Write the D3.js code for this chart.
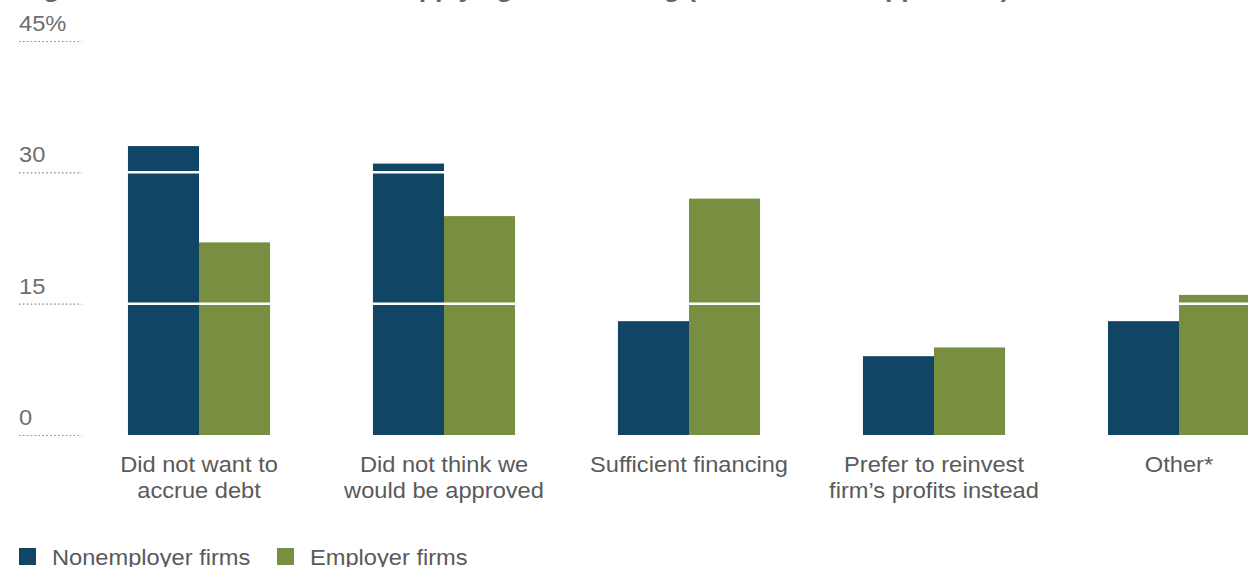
<!DOCTYPE html>
<html>
<head>
<meta charset="utf-8">
<script src="https://cdn.jsdelivr.net/npm/d3@7"></script>
<style>
  html, body { margin: 0; padding: 0; background: #fff; }
  svg { display: block; font-family: "Liberation Sans", Arial, sans-serif; }
</style>
</head>
<body>
<svg id="chart" width="1248" height="567"></svg>
<script>
// Reasons for not applying for financing, share of firms (%)
const categories = [
  ["Did not want to", "accrue debt"],
  ["Did not think we", "would be approved"],
  ["Sufficient financing"],
  ["Prefer to reinvest", "firm\u2019s profits instead"],
  ["Other*"]
];
const seriesNames = ["Nonemployer firms", "Employer firms"];
const nonemployer = [33, 31, 13, 9, 13];
const employer = [22, 25, 27, 10, 16];
const yTicks = [0, 15, 30, 45];
const titleText = "Figure 4. Main reasons for not applying for financing (% of total nonapplicants)";

const colors = ["#104566", "#788f42"];
const stretch = 1.1;

const svg = d3.select("#chart");
const W = 1248;

const catKeys = categories.map(c => c.join(" "));
const x = d3.scaleBand().domain(catKeys).range([76.5, 1301.5])
  .paddingInner(0.42).paddingOuter(0.21);
const xs = d3.scaleBand().domain(seriesNames).range([0, x.bandwidth()]).padding(0);
const y = d3.scaleLinear().domain([0, 45]).range([435, 41]);

// title (sits above the visible area, only descenders show)
svg.append("text")
  .attr("transform", `translate(20,-3) scale(${stretch},1)`)
  .attr("font-size", 24).attr("font-weight", "bold").attr("fill", "#666")
  .text(titleText);

// bars
const rows = catKeys.map((k, i) => ({ key: k, vals: [nonemployer[i], employer[i]] }));
const groups = svg.append("g").selectAll("g").data(rows).join("g")
  .attr("transform", d => `translate(${x(d.key)},0)`);
groups.selectAll("rect")
  .data(d => d.vals.map((v, j) => ({ name: seriesNames[j], v, j })))
  .join("rect")
  .attr("x", d => xs(d.name))
  .attr("width", xs.bandwidth())
  .attr("y", d => y(d.v))
  .attr("height", d => y(0) - y(d.v))
  .attr("fill", d => colors[d.j]);

// white gridlines over the bars
svg.append("g").selectAll("line").data(yTicks.filter(t => t > 0 && t < 45)).join("line")
  .attr("x1", 100).attr("x2", W)
  .attr("y1", d => y(d)).attr("y2", d => y(d))
  .attr("stroke", "#fff").attr("stroke-width", 2.5);

// y axis: labels with dotted rules
const yAxis = svg.append("g");
yAxis.selectAll("line").data(yTicks).join("line")
  .attr("x1", 19).attr("x2", 82)
  .attr("y1", d => y(d) + 0.5).attr("y2", d => y(d) + 0.5)
  .attr("stroke", "#8a8a8a").attr("stroke-width", 1.2)
  .attr("stroke-dasharray", "1.6,2.3");
yAxis.selectAll("text").data(yTicks).join("text")
  .attr("transform", d => `translate(19,${y(d) - 10}) scale(${stretch},1)`)
  .attr("font-size", 21.5).attr("fill", "#6e6e6e")
  .text(d => d === 45 ? d + "%" : d);

// category labels
const xl = svg.append("g").selectAll("g").data(categories).join("g")
  .attr("transform", (d, i) => `translate(${x(catKeys[i]) + x.bandwidth() / 2},0)`);
xl.selectAll("text").data(d => d).join("text")
  .attr("transform", (d, i) => `translate(0,${472 + i * 26}) scale(${stretch},1)`)
  .attr("text-anchor", "middle").attr("font-size", 21.5).attr("fill", "#5a5a5a")
  .text(d => d);

// legend
const legX = [19, 277];
const leg = svg.append("g").selectAll("g").data(seriesNames).join("g")
  .attr("transform", (d, i) => `translate(${legX[i]},0)`);
leg.append("rect").attr("x", 0).attr("y", 548).attr("width", 17).attr("height", 17)
  .attr("fill", (d, i) => colors[i]);
leg.append("text")
  .attr("transform", `translate(33,565) scale(${stretch},1)`)
  .attr("font-size", 21.5).attr("fill", "#5a5a5a")
  .text(d => d);
</script>
</body>
</html>
